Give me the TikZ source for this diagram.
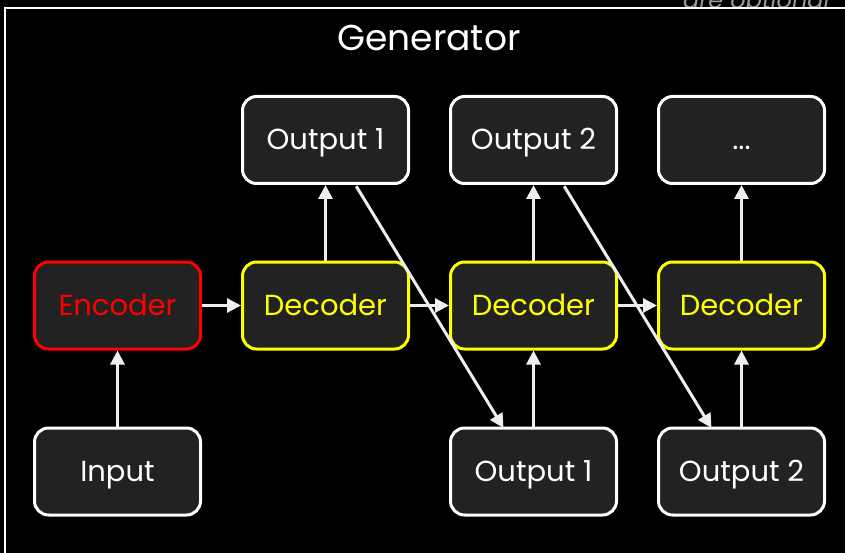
\documentclass[tikz,border=0pt]{standalone}
\usepackage{fontspec}
\setmainfont{Poppins}
\usetikzlibrary{arrows.meta}
\definecolor{boxfill}{HTML}{222222}
\definecolor{arrowc}{HTML}{EEEEEE}
\definecolor{encred}{HTML}{FF0000}
\definecolor{decyel}{HTML}{FFFF00}
\definecolor{notegrey}{HTML}{9A9A9A}
\tikzset{
  box/.style={draw=white, fill=boxfill, line width=3pt, rounded corners=14pt,
    minimum width=166pt, minimum height=87pt, inner sep=0pt,
    text height=20pt, text depth=0pt,
    text=white, font=\fontsize{29}{34}\selectfont},
  encbox/.style={box, draw=encred, text=encred},
  decbox/.style={box, draw=decyel, text=decyel},
  flow/.style={draw=arrowc, line width=3pt, -{Triangle[length=14pt,width=14pt]}}
}
\begin{document}
\begin{tikzpicture}[x=1pt,y=-1pt]
\fill[black] (0,0) rectangle (845,553);
\useasboundingbox (0,0) rectangle (845,553);
\node[anchor=base west, text=notegrey, font=\itshape\fontsize{24}{28}\selectfont, inner sep=0pt] (note) at (683,9) {are optional};
\draw[white, fill=black, line width=2pt] (4.5,600) -- (4.5,8) -- (900,8) -- (900,600) -- cycle;
\node[text=white, font=\fontsize{36}{42}\selectfont] (title) at (429,38) {Generator};

\node[encbox] (enc) at (117.5,305.5) {Encoder};
\node[decbox] (d1) at (325.5,305.5) {Decoder};
\node[decbox] (d2) at (533.5,305.5) {Decoder};
\node[decbox] (d3) at (741.5,305.5) {Decoder};

\node[box] (o1t) at (325.5,140) {Output 1};
\node[box] (o2t) at (533.5,140) {Output 2};
\node[box] (o3t) at (741.5,140) {...};

\node[box] (inp) at (117.5,471.5) {Input};
\node[box] (o1b) at (533.5,471.5) {Output 1};
\node[box] (o2b) at (741.5,471.5) {Output 2};

\draw[flow] (inp) -- (enc);
\draw[flow] (enc) -- (d1);
\draw[flow] (d1) -- (d2);
\draw[flow] (d2) -- (d3);
\draw[flow] (d1) -- (o1t);
\draw[flow] (d2) -- (o2t);
\draw[flow] (d3) -- (o3t);
\draw[flow] (o1b) -- (d2);
\draw[flow] (o2b) -- (d3);
\draw[flow, shorten <=1.5pt] ([xshift=30pt]o1t.south) -- ([xshift=-30pt,yshift=-1.5pt]o1b.north);
\draw[flow, shorten <=1.5pt] ([xshift=30pt]o2t.south) -- ([xshift=-30pt,yshift=-1.5pt]o2b.north);
\end{tikzpicture}
\end{document}
